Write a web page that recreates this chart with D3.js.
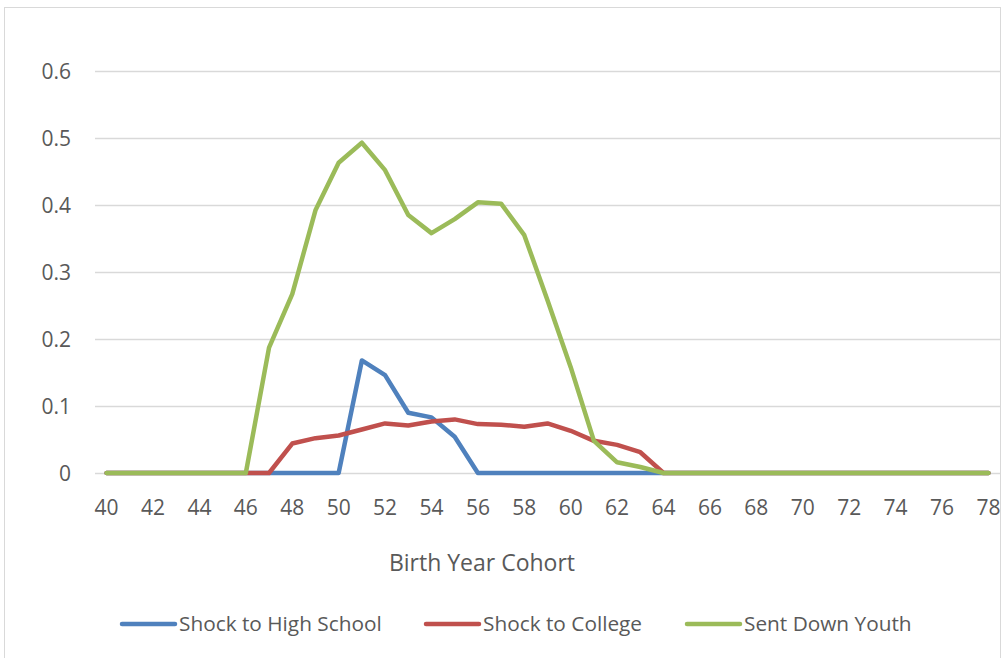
<!DOCTYPE html>
<html>
<head>
<meta charset="utf-8">
<script src="https://cdn.jsdelivr.net/npm/d3@7"></script>
<style>
  body { margin: 0; background: #fff; }
  svg { display: block; }
  text { font-family: "Open Sans", sans-serif; fill: #595959; }
</style>
</head>
<body>
<svg id="chart"></svg>
<script>
// Birth year cohorts 40..78
const years = d3.range(40, 79);
const tickYears = years.filter(y => y % 2 === 0);
const yTicks = [0, 0.1, 0.2, 0.3, 0.4, 0.5, 0.6];

// values (non-zero stretch only, rest is 0)
const highSchool = { 51: 0.168, 52: 0.146, 53: 0.090, 54: 0.083, 55: 0.054 };
const college = { 48: 0.044, 49: 0.052, 50: 0.056, 51: 0.065, 52: 0.074, 53: 0.071, 54: 0.077,
    55: 0.080, 56: 0.073, 57: 0.072, 58: 0.069, 59: 0.074, 60: 0.063, 61: 0.048, 62: 0.042, 63: 0.031 };
const sentDown = { 47: 0.187, 48: 0.267, 49: 0.392, 50: 0.463, 51: 0.493, 52: 0.452, 53: 0.385,
    54: 0.358, 55: 0.379, 56: 0.404, 57: 0.402, 58: 0.355, 59: 0.258, 60: 0.158, 61: 0.048,
    62: 0.016, 63: 0.009 };

const series = [
    { name: "Shock to High School", color: "#4F81BD", values: highSchool },
    { name: "Shock to College", color: "#C0504D", values: college },
    { name: "Sent Down Youth", color: "#9BBB59", values: sentDown }
];

const W = 1006, H = 658;
const margin = { top: 71, right: 6, bottom: 185, left: 95 };
const width = W - margin.left - margin.right;
const height = H - margin.top - margin.bottom;

const svg = d3.select('#chart').attr('width', W).attr('height', H);

// outer chart border (left and top visible)
svg.append('rect')
    .attr('x', 4.5).attr('y', 7.5)
    .attr('width', 996).attr('height', 660)
    .attr('fill', 'none')
    .attr('stroke', '#d9d9d9');

const g = svg.append('g').attr('transform', `translate(${margin.left},${margin.top})`);

const x = d3.scaleBand().domain(years).range([0, width]);
const y = d3.scaleLinear().domain([0, 0.6]).range([height, 0]);

// gridlines
g.selectAll('.grid')
    .data(yTicks)
    .enter().append('line')
    .attr('class', 'grid')
    .attr('x1', 0).attr('x2', width)
    .attr('y1', d => Math.round(y(d)) + 0.5)
    .attr('y2', d => Math.round(y(d)) + 0.5)
    .attr('stroke', '#d9d9d9')
    .attr('stroke-width', 1.3);

// y labels
g.selectAll('.ylab')
    .data(yTicks)
    .enter().append('text')
    .attr('class', 'ylab')
    .attr('x', -24)
    .attr('y', d => y(d))
    .attr('dy', '0.36em')
    .attr('text-anchor', 'end')
    .style('font-size', '21px')
    .text(d => d === 0 ? '0' : d3.format('.1f')(d));

// x labels
g.selectAll('.xlab')
    .data(tickYears)
    .enter().append('text')
    .attr('class', 'xlab')
    .attr('x', d => x(d) + x.bandwidth() / 2)
    .attr('y', height + 42)
    .attr('text-anchor', 'middle')
    .style('font-size', '21px')
    .text(d => d);

// axis title
svg.append('text')
    .attr('x', 482)
    .attr('y', 571)
    .attr('text-anchor', 'middle')
    .style('font-size', '23px')
    .text('Birth Year Cohort');

// lines
const line = d3.line()
    .x(d => x(d.year) + x.bandwidth() / 2)
    .y(d => y(d.value));

series.forEach(s => {
    const pts = years.map(yr => ({ year: yr, value: s.values[yr] || 0 }));
    g.append('path')
        .datum(pts)
        .attr('fill', 'none')
        .attr('stroke', s.color)
        .attr('stroke-width', 4.5)
        .attr('stroke-linejoin', 'round')
        .attr('stroke-linecap', 'round')
        .attr('d', line);
});

// legend
const legendX = [122, 426, 687];
const legend = svg.selectAll('.legend')
    .data(series)
    .enter().append('g')
    .attr('class', 'legend')
    .attr('transform', (d, i) => `translate(${legendX[i]},624)`);

legend.append('line')
    .attr('x1', 0).attr('x2', 53)
    .attr('stroke', d => d.color)
    .attr('stroke-width', 4.5)
    .attr('stroke-linecap', 'round');

legend.append('text')
    .attr('x', 57)
    .attr('dy', '0.35em')
    .style('font-size', '20.8px')
    .text(d => d.name);
</script>
</body>
</html>
